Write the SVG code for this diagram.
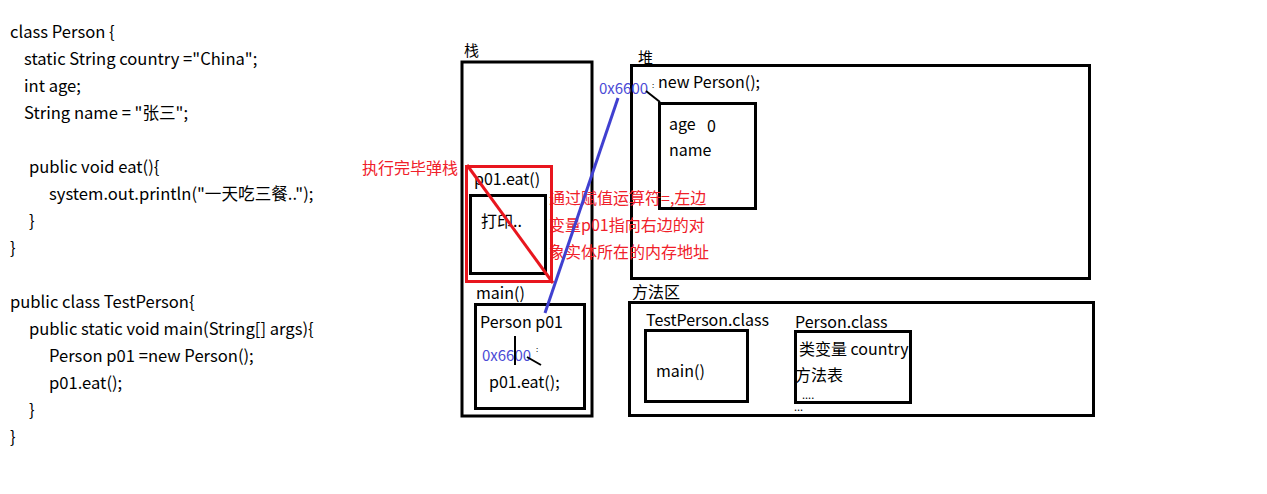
<svg xmlns="http://www.w3.org/2000/svg" width="1267" height="494" viewBox="0 0 1267 494">
<style>
text{font-family:"Microsoft YaHei","Noto Sans CJK SC","Noto Sans",sans-serif;font-size:16px;fill:#000}
.code{font-size:16.6px}
.box{fill:none;stroke:#000;stroke-width:3}
.red{fill:#f0202a;font-size:16px}
.redbox{fill:none;stroke:#e8161e;stroke-width:3}
.blue{fill:#4b4bd6;font-size:15px}
.thin{stroke:#000;stroke-width:2;fill:none}
</style>
<rect width="1267" height="494" fill="#fff"/>
<g id="code">
<text class="code" x="10" y="38">class Person {</text>
<text class="code" x="24" y="65">static String country ="China";</text>
<text class="code" x="24" y="92">int age;</text>
<text class="code" x="24" y="119">String name = "张三";</text>
<text class="code" x="29" y="173">public void eat(){</text>
<text class="code" x="49" y="200">system.out.println("一天吃三餐..");</text>
<text class="code" x="29" y="227">}</text>
<text class="code" x="10" y="254">}</text>
<text class="code" x="10" y="308">public class TestPerson{</text>
<text class="code" x="29" y="335">public static void main(String[] args){</text>
<text class="code" x="49" y="362">Person p01 =new Person();</text>
<text class="code" x="49" y="389">p01.eat();</text>
<text class="code" x="29" y="416">}</text>
<text class="code" x="10" y="443">}</text>
</g>
<g id="stack">
<text x="464" y="56" style="font-size:15px">栈</text>
<rect class="box" x="462" y="62" width="130" height="354"/>
</g>
<g id="eat-frame">
<text x="474" y="185">p01.eat()</text>
<rect class="box" x="470.5" y="195.5" width="75" height="78"/>
<text x="481" y="227">打印..</text>
</g>
<g id="main-frame">
<text x="476" y="299">main()</text>
<rect class="box" x="475.5" y="304.5" width="109" height="104"/>
<text x="480" y="328">Person p01</text>
<text class="blue" x="482" y="361">0x6600</text>
<text x="536" y="352" style="font-size:8px">:</text>
<text x="489" y="388">p01.eat();</text>
<path class="thin" d="M515 336V365 M527 357L541 365"/>
</g>
<g id="heap">
<text x="638" y="63" style="font-size:15px">堆</text>
<rect class="box" x="631.5" y="65.5" width="458" height="213"/>
<text class="blue" x="599" y="94">0x6600</text>
<text x="652" y="88" style="font-size:8px">:</text>
<text x="658" y="88">new Person();</text>
<rect class="box" x="659.5" y="103.5" width="96" height="105"/>
<text x="669" y="130">age</text>
<text x="707" y="132">0</text>
<text x="669" y="156">name</text>
<path class="thin" d="M646 91L660 102"/>
</g>
<g id="method-area">
<text x="632" y="298">方法区</text>
<rect class="box" x="629.5" y="302.5" width="464" height="113"/>
<text x="646" y="326">TestPerson.class</text>
<rect class="box" x="645.5" y="330.5" width="102" height="71"/>
<text x="656" y="377">main()</text>
<text x="795" y="328">Person.class</text>
<rect class="box" x="795.5" y="331.5" width="115" height="71"/>
<text x="799" y="355">类变量 country</text>
<text x="795" y="381">方法表</text>
<text x="802" y="399" style="font-size:11px">....</text>
<text x="794" y="411" style="font-size:11px">...</text>
</g>
<g id="annotations">
<text class="red" x="362" y="174">执行完毕弹栈</text>
<text class="red" x="549" y="204">通过赋值运算符=,左边</text>
<text class="red" x="549" y="231">变量p01指向右边的对</text>
<text class="red" x="549" y="258">象实体所在的内存地址</text>
<rect class="redbox" x="466.5" y="166.5" width="85" height="115"/>
</g>
<g id="connectors">
<line x1="467" y1="165" x2="553" y2="283" stroke="#e8161e" stroke-width="3"/>
<line x1="545" y1="313" x2="618" y2="98" stroke="#4040d0" stroke-width="3"/>
</g>
</svg>
